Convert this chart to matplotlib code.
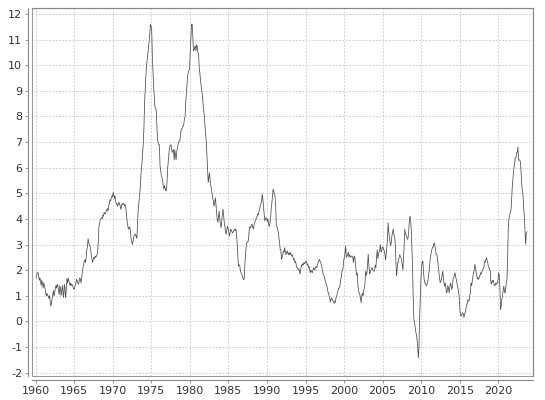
import matplotlib
matplotlib.use("Agg")
import matplotlib.pyplot as plt
from matplotlib.patches import Rectangle

plt.rcParams["axes.unicode_minus"] = False

start_year = 1960
# monthly values, one row per year (1960 - 2023)
values = [
    [1.7, 1.8, 1.9, 1.9, 1.8, 1.6, 1.7, 1.6, 1.4, 1.6, 1.5, 1.3],
    [1.5, 1.4, 1.3, 1.1, 1.0, 1.1, 1.0, 1.0, 0.9, 1.0, 0.8, 0.6],
    [0.7, 0.9, 1.0, 1.2, 1.0, 1.1, 1.3, 1.4, 1.3, 1.45, 1.4, 1.2],
    [1.05, 1.4, 1.3, 1.0, 1.2, 1.4, 1.1, 0.93, 1.45, 1.3, 0.93, 1.2],
    [1.65, 1.5, 1.7, 1.6, 1.5, 1.4, 1.5, 1.4, 1.45, 1.4, 1.3, 1.25],
    [1.3, 1.4, 1.5, 1.65, 1.6, 1.5, 1.45, 1.55, 1.7, 1.65, 1.5, 1.7],
    [1.9, 2.1, 2.2, 2.35, 2.4, 2.3, 2.5, 2.8, 2.9, 3.23, 3.1, 2.95],
    [2.95, 2.8, 2.6, 2.45, 2.3, 2.4, 2.5, 2.45, 2.55, 2.5, 2.55, 2.6],
    [2.7, 3.2, 3.72, 3.8, 3.98, 4.0, 4.05, 4.0, 4.15, 4.1, 4.25, 4.2],
    [4.2, 4.3, 4.35, 4.4, 4.3, 4.5, 4.57, 4.75, 4.7, 4.8, 4.9, 4.85],
    [5.03, 4.95, 4.8, 4.9, 4.7, 4.57, 4.6, 4.5, 4.55, 4.65, 4.6, 4.5],
    [4.37, 4.5, 4.6, 4.55, 4.6, 4.6, 4.5, 4.55, 4.37, 4.1, 3.86, 3.7],
    [3.6, 3.65, 3.7, 3.5, 3.2, 3.1, 3.0, 3.1, 3.3, 3.35, 3.4, 3.4],
    [3.3, 3.25, 3.8, 4.37, 4.6, 4.9, 5.16, 5.6, 6.0, 6.2, 6.6, 7.0],
    [7.6, 8.54, 9.1, 9.58, 10.0, 10.2, 10.47, 10.7, 10.9, 11.2, 11.6, 11.5],
    [11.4, 10.4, 9.8, 9.2, 8.8, 8.4, 8.3, 8.28, 7.7, 7.1, 7.0, 6.9],
    [6.9, 6.07, 5.9, 5.7, 5.6, 5.55, 5.3, 5.16, 5.3, 5.2, 5.1, 5.1],
    [5.5, 6.0, 6.3, 6.6, 6.8, 6.85, 6.9, 6.75, 6.6, 6.65, 6.7, 6.3],
    [6.7, 6.5, 6.3, 6.6, 6.8, 6.9, 7.0, 7.05, 7.05, 7.3, 7.5, 7.5],
    [7.6, 7.6, 7.7, 7.9, 8.0, 8.55, 8.9, 9.2, 9.6, 9.7, 9.8, 9.84],
    [10.5, 11.0, 11.6, 11.6, 11.15, 10.56, 10.6, 10.7, 10.75, 10.56, 10.8, 10.7],
    [10.5, 10.4, 9.9, 9.7, 9.4, 9.2, 9.0, 8.8, 8.5, 8.2, 8.0, 7.6],
    [7.3, 7.0, 6.5, 6.0, 5.42, 5.6, 5.8, 5.5, 5.3, 5.16, 5.0, 4.8],
    [4.7, 4.5, 4.6, 4.83, 4.6, 4.25, 4.0, 3.86, 4.1, 4.31, 4.0, 3.8],
    [3.66, 3.9, 4.2, 4.38, 4.1, 3.86, 3.7, 3.5, 3.4, 3.55, 3.72, 3.6],
    [3.5, 3.33, 3.45, 3.6, 3.55, 3.5, 3.45, 3.5, 3.55, 3.6, 3.55, 3.6],
    [3.4, 3.07, 2.6, 2.16, 2.2, 2.2, 2.0, 1.9, 1.85, 1.8, 1.7, 1.64],
    [1.64, 2.2, 2.6, 2.9, 3.07, 3.1, 3.1, 3.3, 3.6, 3.7, 3.65, 3.75],
    [3.8, 3.7, 3.6, 3.7, 3.85, 3.9, 3.95, 4.05, 4.1, 4.2, 4.15, 4.3],
    [4.37, 4.5, 4.6, 4.7, 4.96, 4.8, 4.5, 4.2, 3.92, 4.0, 4.05, 4.0],
    [3.9, 4.0, 3.8, 3.7, 3.8, 4.0, 4.4, 4.6, 4.9, 5.16, 5.1, 4.96],
    [4.9, 4.5, 3.72, 3.7, 3.6, 3.5, 3.3, 3.07, 2.81, 2.8, 2.42, 2.5],
    [2.6, 2.75, 2.7, 2.88, 2.7, 2.6, 2.7, 2.75, 2.65, 2.6, 2.7, 2.6],
    [2.68, 2.6, 2.55, 2.6, 2.5, 2.4, 2.45, 2.3, 2.35, 2.2, 2.1, 2.1],
    [2.0, 2.05, 1.96, 1.85, 2.0, 2.2, 2.15, 2.25, 2.2, 2.3, 2.25, 2.3],
    [2.36, 2.3, 2.2, 2.25, 2.1, 2.15, 2.0, 1.9, 2.0, 1.95, 1.9, 2.0],
    [2.1, 2.05, 2.0, 2.1, 2.15, 2.1, 2.2, 2.3, 2.35, 2.42, 2.35, 2.3],
    [2.2, 2.1, 1.95, 1.85, 1.8, 1.7, 1.6, 1.5, 1.45, 1.35, 1.2, 1.1],
    [1.0, 0.93, 0.75, 0.85, 0.93, 0.85, 0.8, 0.75, 0.7, 0.8, 0.75, 0.93],
    [1.0, 1.1, 1.2, 1.3, 1.3, 1.4, 1.6, 1.7, 1.95, 2.0, 2.1, 2.4],
    [2.5, 2.7, 2.94, 2.5, 2.55, 2.6, 2.7, 2.5, 2.6, 2.55, 2.5, 2.55],
    [2.55, 2.5, 2.3, 2.5, 2.55, 2.3, 2.0, 1.8, 1.9, 1.4, 1.2, 1.1],
    [1.05, 0.9, 0.73, 1.0, 1.1, 1.0, 1.2, 1.3, 1.5, 1.96, 1.8, 1.9],
    [2.2, 2.62, 2.2, 1.85, 1.9, 2.0, 2.05, 2.1, 2.0, 2.0, 1.95, 2.0],
    [2.2, 2.1, 2.5, 2.8, 2.45, 2.6, 2.7, 2.8, 3.0, 2.7, 2.75, 2.9],
    [2.9, 2.8, 2.75, 2.6, 2.4, 2.6, 2.9, 3.2, 3.85, 3.5, 3.3, 3.1],
    [2.95, 3.1, 3.35, 3.5, 3.6, 3.4, 3.3, 3.1, 2.4, 1.77, 2.0, 2.3],
    [2.3, 2.5, 2.6, 2.55, 2.5, 2.4, 2.2, 2.0, 2.5, 3.0, 3.6, 3.4],
    [3.4, 3.3, 3.2, 3.25, 3.5, 3.9, 4.11, 4.0, 3.6, 2.9, 2.16, 1.0],
    [0.08, 0.0, -0.2, -0.4, -0.5, -0.7, -0.96, -1.42, -1.0, 0.1, 0.86, 1.6],
    [2.16, 2.3, 2.35, 2.0, 1.65, 1.5, 1.5, 1.4, 1.4, 1.5, 1.6, 1.8],
    [2.0, 2.3, 2.5, 2.68, 2.8, 2.9, 2.9, 3.0, 3.07, 2.9, 2.75, 2.6],
    [2.6, 2.4, 2.16, 1.9, 1.7, 1.51, 1.55, 1.65, 1.8, 1.96, 1.7, 1.5],
    [1.38, 1.5, 1.3, 1.1, 1.2, 1.4, 1.3, 1.12, 1.3, 1.5, 1.4, 1.25],
    [1.3, 1.65, 1.7, 1.8, 1.9, 1.75, 1.65, 1.5, 1.4, 1.25, 1.1, 0.8],
    [0.34, 0.25, 0.2, 0.3, 0.34, 0.3, 0.15, 0.3, 0.34, 0.5, 0.6, 0.7],
    [0.85, 0.8, 0.8, 1.0, 1.1, 1.5, 1.4, 1.6, 1.77, 1.9, 2.0, 2.23],
    [2.1, 1.9, 1.8, 1.65, 1.7, 1.65, 1.75, 1.8, 1.9, 1.85, 1.96, 2.0],
    [2.05, 2.1, 2.35, 2.3, 2.4, 2.48, 2.4, 2.3, 2.15, 2.1, 2.0, 1.96],
    [1.5, 1.45, 1.6, 1.55, 1.6, 1.45, 1.38, 1.45, 1.5, 1.45, 1.5, 1.6],
    [1.9, 1.8, 1.3, 0.47, 0.6, 0.85, 1.0, 1.2, 1.38, 1.2, 1.1, 1.3],
    [1.5, 1.65, 2.5, 3.6, 4.0, 4.1, 4.25, 4.3, 4.6, 5.16, 5.5, 5.8],
    [6.0, 6.2, 6.4, 6.4, 6.59, 6.6, 6.8, 6.3, 6.3, 6.3, 6.2, 5.8],
    [5.3, 5.1, 4.9, 4.4, 4.15, 3.6, 3.0, 3.45, 3.5],
]
y_ticks = list(range(-2, 13))
x_ticks = list(range(1960, 2021, 5))

t = []
v = []
for i, row in enumerate(values):
    for m, val in enumerate(row):
        t.append(start_year + i + (m + 0.5) / 12)
        v.append(val)

fig = plt.figure(figsize=(5.45, 4.0), dpi=100)
ax = fig.add_axes([32 / 545, 1 - 376 / 400, 501 / 545, 368 / 400])

ax.plot(t, v, color="#4a4a4a", linewidth=0.55)

ax.set_xlim(1959.52, 2024.5)
ax.set_ylim(-2.13, 12.23)
ax.set_xticks(x_ticks)
ax.set_yticks(y_ticks)
ax.grid(True, color="#c4c4c4", linestyle=(0, (2, 2)), linewidth=0.6)

for s in ["top", "right"]:
    ax.spines[s].set_color("#888888")
    ax.spines[s].set_linewidth(0.8)
for s in ["left", "bottom"]:
    ax.spines[s].set_position(("outward", 3))
    ax.spines[s].set_color("#888888")
    ax.spines[s].set_linewidth(0.8)
ax.add_patch(Rectangle((0, 0), 1, 1, transform=ax.transAxes, fill=False,
                       edgecolor="#999999", linewidth=0.8, clip_on=False))

ax.tick_params(axis="both", labelsize=8, color="#888888", length=2,
               width=0.6, labelcolor="#333333", pad=2)

fig.savefig("out.png", dpi=100, facecolor="white")
